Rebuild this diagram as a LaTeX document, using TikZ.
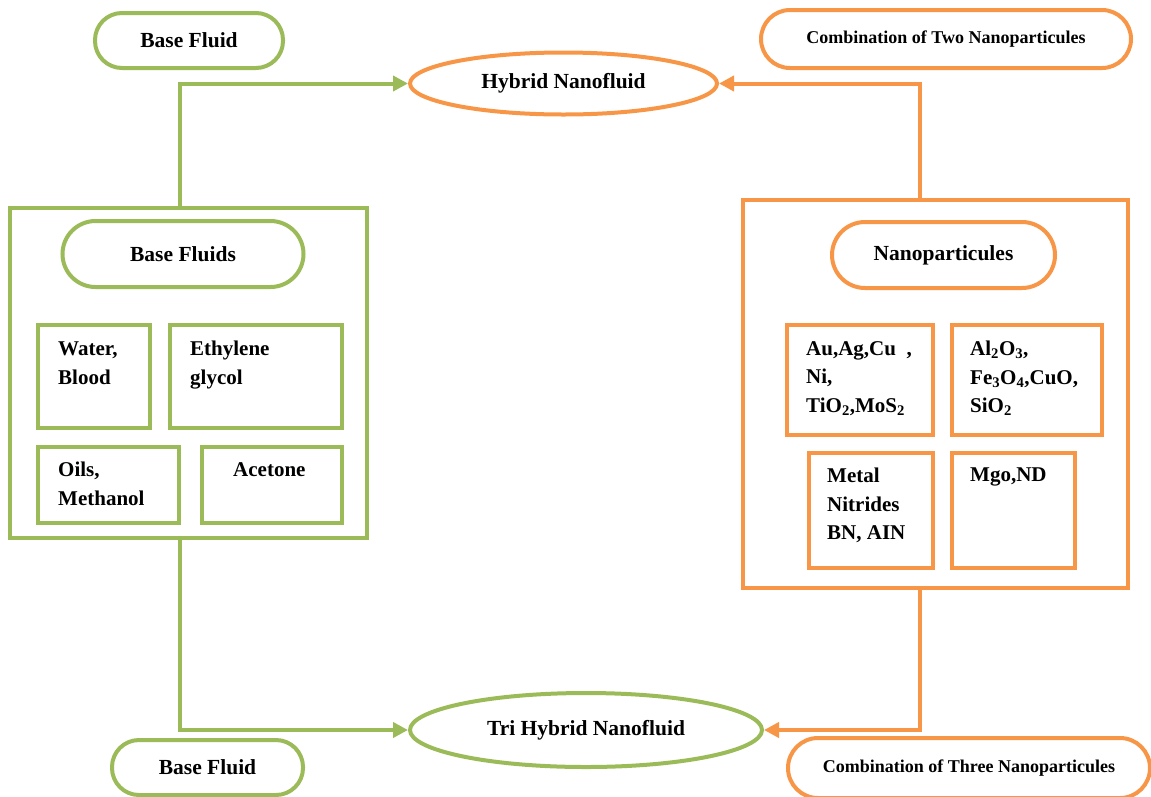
\documentclass[tikz,border=0pt]{standalone}
\usepackage{fontspec}
\setmainfont{Liberation Serif}
\usetikzlibrary{shapes.geometric,arrows.meta}
\definecolor{gr}{HTML}{9BBB59}
\definecolor{og}{HTML}{F79646}
\begin{document}
\begin{tikzpicture}[x=1pt,y=-1pt,
  box/.style={rectangle, line width=4pt, inner sep=0pt, fill=white},
  gbox/.style={box, draw=gr},
  obox/.style={box, draw=og},
  pill/.style={rectangle, line width=4pt, inner sep=0pt, rounded corners=#1, font=\bfseries\fontsize{21.5}{24}\selectfont},
  oval/.style={ellipse, line width=4pt, inner sep=0pt, font=\bfseries\fontsize{21.5}{24}\selectfont},
  small/.style={font=\bfseries\fontsize{18}{20}\selectfont},
  lbl/.style={font=\bfseries\fontsize{21}{28.5}\selectfont, align=left, anchor=north west, inner sep=0pt},
  garrow/.style={draw=gr, line width=4pt, -{Triangle[length=15pt,width=15pt]}},
  oarrow/.style={draw=og, line width=4pt, -{Triangle[length=15pt,width=15pt]}}
]
\useasboundingbox (0,0) rectangle (1151,796);

% top and bottom nodes
\node[pill=27pt, draw=gr, minimum width=188pt, minimum height=55pt] (bf1) at (189,40.5) {Base Fluid};
\node[oval, draw=og, minimum width=307pt, minimum height=62pt] (hyb) at (563.5,83.5) {Hybrid Nanofluid};
\node[pill=29pt, draw=og, small, minimum width=370pt, minimum height=58pt] (c2) at (946,39) {Combination of Two Nanoparticules};

\node[oval, draw=gr, minimum width=352pt, minimum height=74pt] (tri) at (586,730) {Tri Hybrid Nanofluid};
\node[pill=27pt, draw=gr, minimum width=191pt, minimum height=55pt] (bf2) at (207.5,767.5) {Base Fluid};
\node[pill=30pt, draw=og, small, minimum width=362pt, minimum height=60pt] (c3) at (969,768) {Combination of Three Nanoparticules};

% left group
\node[gbox, minimum width=357pt, minimum height=330pt] (lbox) at (188.5,373) {};
\node[pill=33pt, draw=gr, minimum width=241pt, minimum height=66pt] (bfs) at (183,254) {Base Fluids};
\node[gbox, minimum width=112pt, minimum height=103pt] (wb) at (94,376.5) {};
\node[gbox, minimum width=172pt, minimum height=103pt] (eg) at (256,376.5) {};
\node[gbox, minimum width=141pt, minimum height=76pt] (om) at (108.5,485) {};
\node[gbox, minimum width=140pt, minimum height=76pt] (ac) at (272,485) {};
\node[lbl] (wbt) at (58,342) {Water,\\Blood};
\node[lbl] (egt) at (190,341) {Ethylene\\glycol};
\node[lbl] (omt) at (58,462) {Oils,\\Methanol};
\node[lbl] (act) at (233,462) {Acetone};

% right group
\node[obox, minimum width=385pt, minimum height=388pt] (rbox) at (935.5,393.5) {};
\node[pill=33pt, draw=og, minimum width=223pt, minimum height=66pt] (np) at (943.5,255) {Nanoparticules};
\node[obox, minimum width=146pt, minimum height=110pt] (au) at (860,380) {};
\node[obox, minimum width=150pt, minimum height=110pt] (al) at (1027,380) {};
\node[obox, minimum width=124pt, minimum height=115pt] (mn) at (871,510.5) {};
\node[obox, minimum width=123pt, minimum height=115pt] (mg) at (1013.5,510.5) {};
\node[lbl] (aut) at (806,341) {Au,Ag,Cu\ \ ,\\Ni,\\TiO\textsubscript{2},MoS\textsubscript{2}};
\node[lbl] (alt) at (970,341) {Al\textsubscript{2}O\textsubscript{3},\\Fe\textsubscript{3}O\textsubscript{4},CuO,\\SiO\textsubscript{2}};
\node[lbl] (mnt) at (827,468) {Metal\\Nitrides\\BN, AIN};
\node[lbl] (mgt) at (970,468) {Mgo,ND};

% connectors
\draw[garrow] ([xshift=-8.5pt]lbox.north) |- (hyb.west);
\draw[oarrow] ([xshift=-15.5pt]rbox.north) |- (hyb.east);
\draw[garrow] ([xshift=-8.5pt]lbox.south) |- (tri.west);
\draw[oarrow] ([xshift=-15.5pt]rbox.south) |- (tri.east);
\end{tikzpicture}
\end{document}
